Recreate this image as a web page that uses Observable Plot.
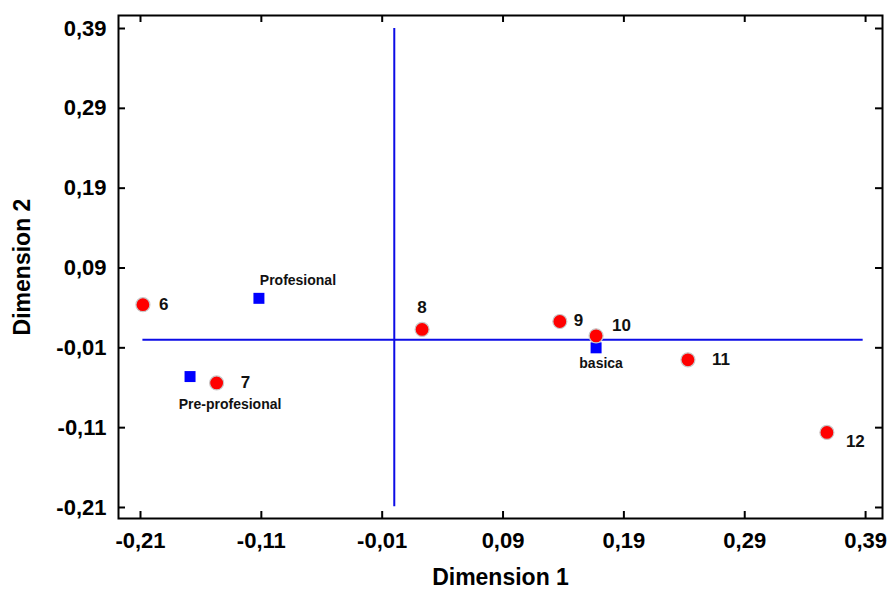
<!DOCTYPE html>
<html>
<head>
<meta charset="utf-8">
<script src="https://cdn.jsdelivr.net/npm/d3@7"></script>
<script src="https://cdn.jsdelivr.net/npm/@observablehq/plot@0.6"></script>
<style>
  html, body { margin: 0; padding: 0; background: #fff; }
  #chart svg { font-family: "Liberation Sans", Arial, sans-serif; }
  #chart svg [aria-label="x-axis label"] text,
  #chart svg [aria-label="y-axis label"] text { font-size: 23px; font-weight: bold; }
</style>
</head>
<body>
<div id="chart"></div>
<script>
// Row points (categories 6..12)
const pointLabels = ["6", "7", "8", "9", "10", "11", "12"];
const pointDim1 = [-0.208, -0.147, 0.023, 0.137, 0.167, 0.243, 0.358];
const pointDim2 = [0.044, -0.054, 0.013, 0.023, 0.005, -0.025, -0.116];

// Column points (education level)
const levelLabels = ["Profesional", "Pre-profesional", "basica"];
const levelDim1 = [-0.112, -0.169, 0.167];
const levelDim2 = [0.052, -0.046, -0.010];

// Axis ticks
const xTicks = [-0.21, -0.11, -0.01, 0.09, 0.19, 0.29, 0.39];
const yTicks = [-0.21, -0.11, -0.01, 0.09, 0.19, 0.29, 0.39];

// Reference lines through the origin
const hLine = [{y: 0, x1: -0.208, x2: 0.388}];
const vLine = [{x: 0, y1: 0.39, y2: -0.209}];

// Label offsets (styling)
const pointOffsets = {
  "6": [16, 0, "start"], "7": [24, 0, "start"], "8": [0, -22, "middle"],
  "9": [14, -1, "start"], "10": [16, -10, "start"], "11": [24, 0, "start"], "12": [19, 9, "start"]
};
const levelOffsets = {
  "Profesional": [39, -18, "middle"], "Pre-profesional": [40, 28, "middle"], "basica": [5, 16, "middle"]
};

const points = pointLabels.map((l, i) => ({label: l, x: pointDim1[i], y: pointDim2[i]}));
const levels = levelLabels.map((l, i) => ({label: l, x: levelDim1[i], y: levelDim2[i]}));

const W = 889, H = 594;
const mL = 118, mR = 7, mT = 15, mB = 76;
const plotH = H - mT - mB, plotW = W - mL - mR;
const fmt = d => d.toFixed(2).replace(".", ",");

const textMarks = [];
for (const p of points) {
  const [dx, dy, anchor] = pointOffsets[p.label];
  textMarks.push(Plot.text([p], {x: "x", y: "y", text: "label", dx, dy, textAnchor: anchor,
    fontSize: 17, fontWeight: "bold", fill: "#111"}));
}
for (const p of levels) {
  const [dx, dy, anchor] = levelOffsets[p.label];
  textMarks.push(Plot.text([p], {x: "x", y: "y", text: "label", dx, dy, textAnchor: anchor,
    fontSize: 14, fontWeight: "bold", fill: "#111"}));
}

const chart = Plot.plot({
  width: W, height: H,
  marginLeft: mL, marginRight: mR, marginTop: mT, marginBottom: mB,
  x: {domain: [-0.2282, 0.404]},
  y: {domain: [-0.2238, 0.4063]},
  style: {fontFamily: "Liberation Sans, Arial, sans-serif", background: "#fff"},
  marks: [
    Plot.ruleY(hLine, {y: "y", x1: "x1", x2: "x2", stroke: "#0c0ce6", strokeWidth: 2}),
    Plot.ruleX(vLine, {x: "x", y1: "y1", y2: "y2", stroke: "#0c0ce6", strokeWidth: 2}),
    // inward ticks on all four sides
    Plot.tickX(xTicks, {x: d => d, insetTop: plotH - 7, stroke: "#000", strokeWidth: 2}),
    Plot.tickX(xTicks, {x: d => d, insetBottom: plotH - 7, stroke: "#000", strokeWidth: 2}),
    Plot.tickY(yTicks, {y: d => d, insetRight: plotW - 7, stroke: "#000", strokeWidth: 2}),
    Plot.tickY(yTicks, {y: d => d, insetLeft: plotW - 7, stroke: "#000", strokeWidth: 2}),
    Plot.axisX({ticks: xTicks, tickFormat: fmt, tickSize: 0, tickPadding: 14,
      fontSize: 22, fontWeight: "bold", label: "Dimension 1", labelAnchor: "center", labelOffset: 66, labelArrow: "none"}),
    Plot.axisY({ticks: yTicks, tickFormat: fmt, tickSize: 0, tickPadding: 12,
      fontSize: 22, fontWeight: "bold", label: "Dimension 2", labelAnchor: "center", labelOffset: 105, labelArrow: "none"}),
    Plot.dot(levels, {x: "x", y: "y", symbol: "square", r: 6.2, fill: "#0000ff", stroke: "none"}),
    Plot.dot(points, {x: "x", y: "y", r: 7, fill: "#ff0000", stroke: "#c8c8c8", strokeWidth: 1.2}),
    ...textMarks,
    Plot.frame({stroke: "#000", strokeWidth: 2})
  ]
});
document.getElementById("chart").appendChild(chart);
</script>
</body>
</html>
